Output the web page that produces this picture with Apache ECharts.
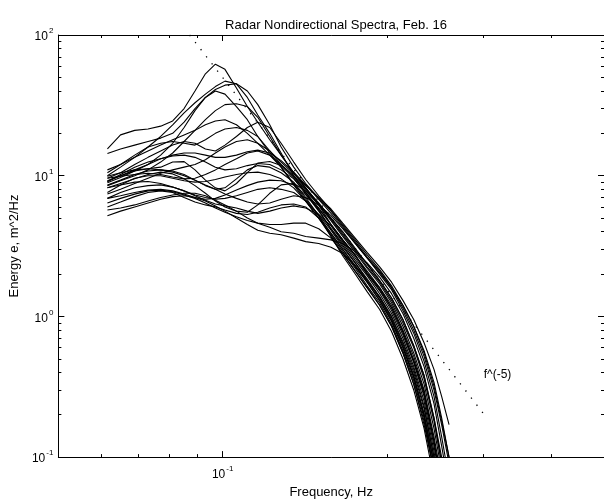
<!DOCTYPE html>
<html><head><meta charset="utf-8">
<script src="https://cdn.jsdelivr.net/npm/echarts@6/dist/echarts.min.js"></script>
<style>html,body{margin:0;padding:0;background:#fff}#c{width:604px;height:504px}</style>
</head><body><div id="c"></div>
<script>
// Frequencies (Hz) shared by all spectra
const freq = [0.0615,0.065,0.069,0.073,0.077,0.081,0.085,0.089,0.093,0.097,0.101,0.106,0.111,0.116,0.122,0.128,0.135,0.142,0.150,0.158,0.166,0.175,0.184,0.194,0.204,0.214,0.224,0.234,0.244,0.252,0.260,0.268,0.275];

// Energy (m^2/Hz) of each spectrum
const spectrum01 = [15.5,19.5,21,21.5,22.5,24.5,30,40,53,62,57,42,31,24,18,14,10.5,8.2,6.3,5.0,4.0,3.05,2.35,1.8,1.35,0.95,0.62,0.38,0.19,0.09];
const spectrum02 = [10,11.5,13.5,16,19,23,28,33,38,43,47,45,36,27,20,14.5,10,7.6,5.7,4.2,3.2,2.4,1.85,1.38,1.0,0.66,0.42,0.23,0.1,0.05];
const spectrum03 = [14.4,15.5,16.5,17.5,18.5,20,24,30,36,41,44,45,40,32,23,16,11.5,8.8,6.9,5.6,4.4,3.4,2.65,2.1,1.6,1.15,0.8,0.52,0.3,0.17,0.09];
const spectrum04 = [9.2,10,11,12,14,17,22,29,36,40,38,31,25,19,14.5,11.5,8.6,6.6,5.0,3.7,2.8,2.1,1.6,1.2,0.85,0.55,0.33,0.18,0.08];
const spectrum05 = [8.5,9.2,10,11,12.5,14.5,17.5,21,25,29,32,32.5,31,26,19,14,10.5,8.2,6.2,4.5,3.5,2.75,2.0,1.6,1.15,0.78,0.48,0.28,0.13,0.06];
const spectrum06 = [11,12,13.5,15,16.5,18,19.5,21,23,24.5,25,23,20,17,14,11.5,8.8,6.8,5.2,3.9,3.0,2.25,1.75,1.3,0.92,0.6,0.37,0.2,0.09];
const spectrum07 = [10.5,12,14,16,17,17.5,17,16.5,18,20,21.5,22,21,19,15,12,9.8,7.9,6.3,4.9,3.8,2.95,2.25,1.75,1.3,0.9,0.6,0.36,0.18,0.09];
const spectrum08 = [9.6,10.5,12,13.5,15,16.5,17.5,17,15.5,15,16.5,19,22,24,22,17,12.5,9.4,7.2,5.7,4.5,3.5,2.75,2.15,1.65,1.2,0.85,0.55,0.32,0.18,0.1,0.05];
const spectrum09 = [9.1,10,10.8,11.2,11.5,12.5,12.6,11,9.3,8.2,7.8,8.8,10.5,12.3,12.6,11.8,9.6,7.4,5.6,4.2,3.3,2.5,1.95,1.45,1.05,0.7,0.44,0.25,0.11,0.05];
const spectrum10 = [8.6,9.3,10.2,10.8,11,10.8,10.2,9.3,8.5,8.0,8.2,9.5,11,11.8,11.5,10.5,9.0,7.0,5.2,3.7,2.7,2.0,1.5,1.12,0.78,0.5,0.3,0.16,0.07];
const spectrum11 = [8.2,8.8,9.5,10.2,10.6,10.3,9.5,8.5,7.5,6.6,6.0,5.6,5.5,6.2,7.5,8.6,8.8,7.8,6.2,4.8,3.7,2.85,2.2,1.7,1.25,0.85,0.55,0.33,0.16,0.08];
const spectrum12 = [7.6,8.6,9.6,10,10,9.6,9.2,9.0,9.1,9.4,9.8,10.2,10.5,10.6,10.2,9.5,8.2,6.6,5.0,3.8,2.9,2.2,1.65,1.25,0.88,0.57,0.35,0.19,0.08];
const spectrum13 = [6.9,7.6,8.2,8.5,8.6,8.3,7.8,7.2,6.7,6.3,6.1,5.9,5.6,5.4,5.6,5.9,6.1,5.9,5.3,4.4,3.4,2.6,2.0,1.52,1.1,0.74,0.47,0.27,0.12,0.06];
const spectrum14 = [6.4,6.9,7.4,7.8,7.9,7.7,7.3,6.9,6.4,5.9,5.5,5.1,4.8,4.6,4.5,4.5,4.6,4.6,4.2,3.6,2.8,2.1,1.6,1.2,0.85,0.55,0.33,0.17,0.08];
const spectrum15 = [5.2,5.6,6.0,6.4,6.8,7.1,7.2,7.0,6.6,6.1,5.6,5.0,4.5,4.1,3.9,3.8,3.6,3.4,3.3,3.1,2.8,2.3,1.8,1.35,0.95,0.62,0.38,0.2,0.09];
const spectrum16 = [5.7,5.9,6.2,6.6,7.0,7.3,7.5,7.5,7.2,6.7,6.2,5.6,5.0,4.6,4.3,4.0,3.9,3.7,3.6,3.5,3.3,2.9,2.4,1.9,1.45,1.05,0.7,0.44,0.24,0.12,0.06];
const spectrum17 = [9.9,10.5,11,11.2,11,10.6,10,9.3,8.6,8.0,7.4,6.9,6.5,6.3,6.4,6.8,7.2,7.0,6.2,5.2,4.2,3.3,2.6,2.0,1.55,1.1,0.76,0.48,0.27,0.14,0.07];
const spectrum18 = [9.6,9.9,10.2,10.4,10.2,9.8,9.5,9.6,10.2,11,12,13.2,14.5,15,14,12,10,8.1,6.4,5.0,3.9,3.0,2.35,1.8,1.35,0.95,0.62,0.38,0.19,0.1,0.05];
const spectrum19 = [8.2,8.6,9.0,9.1,8.8,8.3,7.8,7.3,7.0,6.8,6.9,7.2,7.6,8.0,8.2,8.0,7.6,6.6,5.3,4.1,3.1,2.4,1.8,1.38,0.98,0.64,0.4,0.22,0.1,0.05];
const spectrum20 = [6.9,7.2,7.6,7.9,8.0,7.8,7.4,7.0,6.8,6.9,7.3,7.9,8.5,9.0,9.3,9.2,8.6,7.3,5.8,4.5,3.5,2.7,2.1,1.6,1.2,0.8,0.52,0.3,0.14,0.07];
const spectrum21 = [7.4,8.0,8.8,9.6,10.4,11,11.5,12,13,14.5,16,17.5,18,17,15,12.5,10.3,8.5,7.0,5.8,4.6,3.6,2.85,2.25,1.75,1.3,0.95,0.65,0.42,0.27,0.17];
const spectrum22 = [8.9,9.7,10.8,12,13.2,14,14.5,14.5,14,13.5,13.5,14,14.8,15.2,14.5,12.8,10.6,8.6,6.8,5.4,4.3,3.3,2.6,2.05,1.6,1.2,0.85,0.57,0.34,0.19,0.1,0.05];
const spectrum23 = [6.0,6.5,7.1,7.6,7.8,7.6,7.0,6.5,6.2,6.0,5.7,5.4,5.3,5.5,5.9,6.2,6.3,6.0,5.0,3.9,3.0,2.3,1.75,1.3,0.93,0.6,0.37,0.2,0.09];
const spectrum24 = [9.1,10.2,11.5,12.5,13.2,13.8,14,13.5,12.5,11.5,11,11.2,11.8,12.2,12,11,9.5,7.6,5.9,4.5,3.5,2.7,2.05,1.55,1.15,0.77,0.49,0.29,0.13,0.06];

const spectra = [spectrum01,spectrum02,spectrum03,spectrum04,spectrum05,spectrum06,spectrum07,spectrum08,spectrum09,spectrum10,spectrum11,spectrum12,spectrum13,spectrum14,spectrum15,spectrum16,spectrum17,spectrum18,spectrum19,spectrum20,spectrum21,spectrum22,spectrum23,spectrum24];

// f^(-5) reference line endpoints
const refFreq = [0.087, 0.30];
const refEnergy = [100, 0.206];
const refLabel = 'f^(-5)';
const refLabelAt = [0.319, 0.385];

// Axis ranges and ticks
const xRange = [0.05, 0.5];
const yRange = [0.1, 100];
const xMajorTicks = [0.1];
const xMinorTicks = [0.06,0.07,0.08,0.09,0.2,0.3,0.4];
const yMajorTicks = [0.1,1,10,100];
const yMinorTicks = [0.2,0.3,0.4,0.5,0.6,0.7,0.8,0.9,2,3,4,5,6,7,8,9,20,30,40,50,60,70,80,90];

const FONT = '"Liberation Sans", Arial, Helvetica, sans-serif';
const chart = echarts.init(document.getElementById('c'), null, {renderer:'canvas'});

const pow10 = v => '{b|10}{s|' + Math.round(Math.log10(v)) + '}';
const rich = {
  b: {fontSize: 12, fontFamily: FONT, color: '#000', lineHeight: 16, verticalAlign: 'bottom'},
  s: {fontSize: 8, fontFamily: FONT, color: '#000', lineHeight: 16, verticalAlign: 'top', padding:[0,0,0,1]}
};

function xAx(pos, ticks, len, showLine, labels) {
  return {
    type: 'log', logBase: 10, min: xRange[0], max: xRange[1], position: pos, gridIndex: 0,
    axisLine: {show: showLine, onZero: false, lineStyle: {color: '#000', width: 1}},
    axisTick: {show: true, inside: true, length: len, customValues: ticks, lineStyle: {color: '#000', width: 1}},
    axisLabel: labels ? {show: true, customValues: xMajorTicks, formatter: pow10, rich: rich, margin: 8} : {show: false},
    splitLine: {show: false}, minorTick: {show: false}, minorSplitLine: {show: false},
    name: labels ? 'Frequency, Hz' : '', nameLocation: 'middle', nameGap: 25,
    nameTextStyle: {fontSize: 13, fontFamily: FONT, color: '#000'}
  };
}
function yAx(pos, ticks, len, showLine, labels) {
  return {
    type: 'log', logBase: 10, min: yRange[0], max: yRange[1], position: pos, gridIndex: 0,
    axisLine: {show: showLine, onZero: false, lineStyle: {color: '#000', width: 1}},
    axisTick: {show: true, inside: true, length: len, customValues: ticks, lineStyle: {color: '#000', width: 1}},
    axisLabel: labels ? {show: true, customValues: yMajorTicks, formatter: pow10, rich: rich, margin: 5} : {show: false},
    splitLine: {show: false}, minorTick: {show: false}, minorSplitLine: {show: false},
    name: labels ? 'Energy e, m^2/Hz' : '', nameLocation: 'middle', nameGap: 36,
    nameTextStyle: {fontSize: 13, fontFamily: FONT, color: '#000'}
  };
}

const series = spectra.map((vals, k) => ({
  type: 'line', xAxisIndex: 0, yAxisIndex: 0, symbol: 'none', silent: true,
  data: vals.map((v, i) => [freq[i], v]),
  lineStyle: {color: '#000', width: 1.1}, clip: true, z: 3
}));
series.push({
  type: 'line', xAxisIndex: 0, yAxisIndex: 0, symbol: 'none', silent: true, clip: true,
  data: refFreq.map((f, i) => [f, refEnergy[i]]),
  lineStyle: {color: '#000', width: 1.3, type: [1.3, 7.7]}, z: 2,
  markPoint: {
    symbol: 'circle', symbolSize: 0, silent: true,
    data: [{coord: refLabelAt}],
    label: {show: true, formatter: refLabel, position: 'inside', color: '#000', fontSize: 12, fontFamily: FONT}
  }
});

chart.setOption({
  animation: false,
  backgroundColor: '#fff',
  title: {text: 'Radar Nondirectional Spectra, Feb. 16', left: 331, top: 14, textAlign: 'center',
    textStyle: {fontSize: 13, fontWeight: 'normal', fontFamily: FONT, color: '#000'}},
  grid: {left: 56, top: 35, width: 552, height: 427.5, containLabel: false},
  xAxis: [
    xAx('bottom', xMajorTicks, 6, true, true),
    xAx('bottom', xMinorTicks, 3, false, false),
    xAx('top', xMajorTicks, 6, true, false),
    xAx('top', xMinorTicks, 3, false, false)
  ],
  yAxis: [
    yAx('left', yMajorTicks, 6, true, true),
    yAx('left', yMinorTicks, 3, false, false),
    yAx('right', yMajorTicks, 6, true, false),
    yAx('right', yMinorTicks, 3, false, false)
  ],
  series: series
});
</script></body></html>
